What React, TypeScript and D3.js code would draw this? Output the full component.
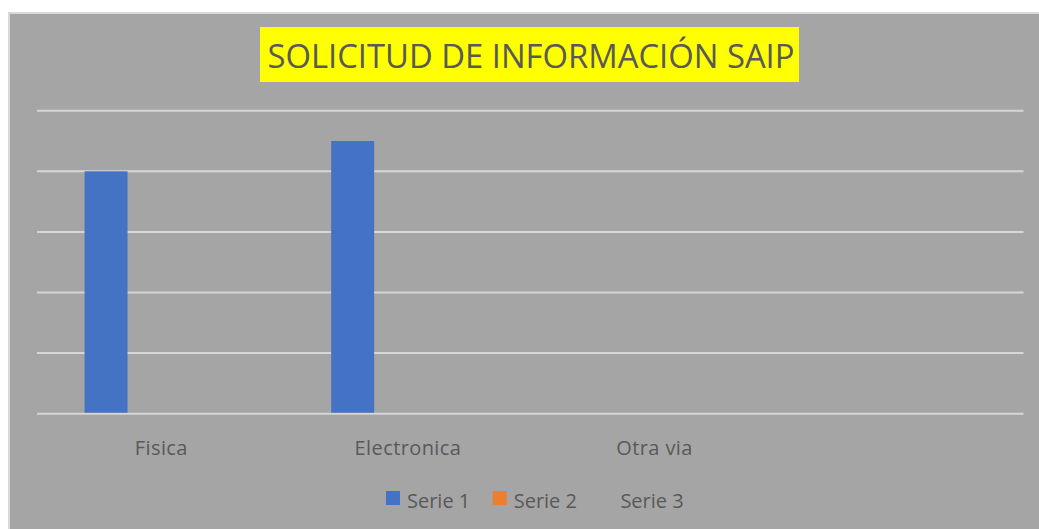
import React from "react";
import * as d3 from "d3";

const title = "SOLICITUD DE INFORMACIÓN SAIP";
const categories = ["Fisica", "Electronica", "Otra via", ""];
const seriesNames = ["Serie 1", "Serie 2", "Serie 3"];
const serie1 = [4, 4.5, 0, 0];
const serie2 = [0, 0, 0, 0];
const serie3 = [0, 0, 0, 0];
const yTicks = [0, 1, 2, 3, 4, 5];

const seriesValues = [serie1, serie2, serie3];
const colors = ["#4472c4", "#ed7d31", "#a5a5a5"];

export default function App() {
  const W = 1039;
  const H = 529;
  const plot = { left: 37, right: 1023.5, top: 110.7, bottom: 413.7 };
  const font = "'Open Sans', 'Noto Sans', sans-serif";
  const textColor = "#595959";

  const x = d3
    .scaleBand<string>()
    .domain(categories.map((c, i) => String(i)))
    .range([plot.left, plot.right])
    .padding(0);

  const xs = d3
    .scaleBand<string>()
    .domain(seriesNames)
    .range([0, x.bandwidth()])
    .paddingInner(0)
    .paddingOuter(1.37)
    .align(0.404);

  const y = d3.scaleLinear().domain([0, 5]).range([plot.bottom, plot.top]);

  const legendStart = 386;
  const legendStep = 106.7;

  return (
    <svg
      width={W}
      height={H}
      style={{ position: "absolute", left: 0, top: 0, display: "block" }}
    >
      <rect x={9} y={13} width={1070} height={540} fill="#a5a5a5" stroke="#d9d9d9" strokeWidth={2} />
      <rect x={260} y={27} width={539} height={55} fill="#ffff00" />
      <text
        x={531}
        y={68}
        textAnchor="middle"
        fontFamily={font}
        fontSize={33}
        fill={textColor}
        textLength={527}
        lengthAdjust="spacingAndGlyphs"
      >
        {title}
      </text>
      {yTicks.map((t) => (
        <line
          key={t}
          x1={plot.left}
          x2={plot.right}
          y1={y(t)}
          y2={y(t)}
          stroke="#d6d6d6"
          strokeWidth={2}
        />
      ))}
      {seriesValues.map((vals, si) =>
        vals.map((v, ci) =>
          v > 0 ? (
            <rect
              key={`${si}-${ci}`}
              x={(x(String(ci)) as number) + (xs(seriesNames[si]) as number)}
              y={y(v)}
              width={xs.bandwidth()}
              height={y(0) - y(v) - 1}
              fill={colors[si]}
            />
          ) : null
        )
      )}
      {categories.map((c, i) => (
        <text
          key={i}
          x={(x(String(i)) as number) + x.bandwidth() / 2 + 1}
          y={455}
          textAnchor="middle"
          fontFamily={font}
          fontSize={20}
          letterSpacing={0.4}
          fill={textColor}
        >
          {c}
        </text>
      ))}
      {seriesNames.map((s, i) => (
        <g key={s} transform={`translate(${legendStart + i * legendStep},0)`}>
          <rect x={0} y={491} width={14} height={14} fill={colors[i]} />
          <text x={21} y={507.5} fontFamily={font} fontSize={20} fill={textColor}>
            {s}
          </text>
        </g>
      ))}
    </svg>
  );
}
